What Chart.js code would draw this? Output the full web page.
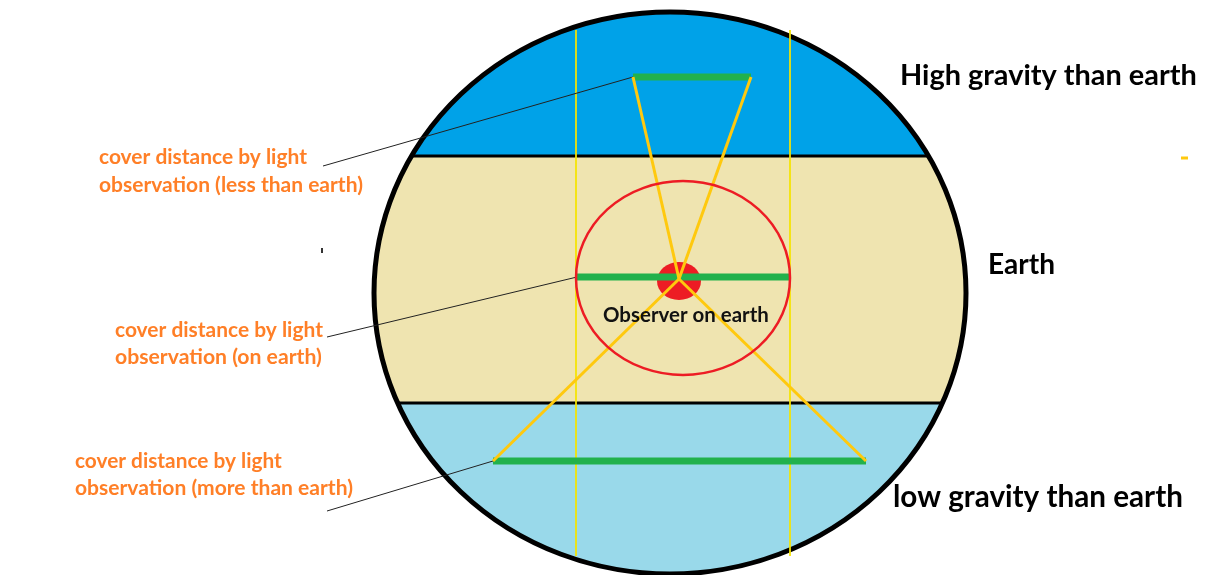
<!DOCTYPE html>
<html>
<head>
<meta charset="utf-8">
<script src="https://cdn.jsdelivr.net/npm/chart.js@4/dist/chart.umd.min.js"></script>
<style>
  html, body { margin: 0; padding: 0; background: #fff; }
  #wrap { width: 1206px; height: 575px; position: relative; }
</style>
</head>
<body>
<div id="wrap"><canvas id="gravity-chart"></canvas></div>
<script>
// diagram values, in picture units (x right, y down)
const levels = ["High gravity than earth", "Earth", "low gravity than earth"];
const spanY = [77, 277, 461];
const spanLeft = [633, 577, 493];
const spanRight = [751, 791, 866];
const observer = [679, 279];
const leaderStart = [[323, 166], [327, 337], [327, 511]];
const guideX = [576, 790];
const guideY = [30, 556];
const bandEdges = [156, 403];
const bandColors = ["#00a2e8", "#efe4b0", "#99d9ea"];
const disc = [670, 293, 296, 281];     // cx, cy, rx, ry
const ring = [683, 278, 107, 97];
const dot = [679, 281, 22, 19];

const captions = [
  ["cover distance by light", "observation (less than earth)"],
  ["cover distance by light", "observation (on earth)"],
  ["cover distance by light", "observation (more than earth)"]
];

// text layout: [text, x, baseline, width, colour]
const textLayout = [
  [levels[0], 900, 85, 297, "#000"],
  [levels[1], 988, 274, 67, "#000"],
  [levels[2], 893, 507, 290, "#000"],
  [captions[0][0], 99, 164, 208, "#ff7f27"],
  [captions[0][1], 99, 192, 264, "#ff7f27"],
  [captions[1][0], 115, 337, 208, "#ff7f27"],
  [captions[1][1], 115, 364, 207, "#ff7f27"],
  [captions[2][0], 75, 468, 207, "#ff7f27"],
  [captions[2][1], 75, 495, 278, "#ff7f27"],
  ["Observer on earth", 603, 322, 166, "#111"]
];

function seg(a, b) { return [{x: a[0], y: a[1]}, {x: b[0], y: b[1]}]; }

const datasets = [];
guideX.forEach(gx => datasets.push({
  data: seg([gx, guideY[0]], [gx, guideY[1]]), borderColor: "#f5e400", borderWidth: 1, order: 6
}));
leaderStart.forEach((p, i) => datasets.push({
  data: seg(p, [spanLeft[i], spanY[i]]), borderColor: "#222", borderWidth: 1, order: 5
}));
spanY.forEach((y, i) => datasets.push({
  data: seg([spanLeft[i], y], [spanRight[i], y]), borderColor: "#22b14c", borderWidth: 7, order: 4
}));
[0, 2].forEach(i => {
  datasets.push({ data: seg([spanLeft[i], spanY[i]], observer), borderColor: "#ffc90e", borderWidth: 3, order: 3 });
  datasets.push({ data: seg([spanRight[i], spanY[i]], observer), borderColor: "#ffc90e", borderWidth: 3, order: 3 });
});
// stray marks in the picture
datasets.push({ data: seg([1181, 158], [1188, 158]), borderColor: "#ffc90e", borderWidth: 3, order: 2 });
datasets.push({ data: seg([322, 248], [322, 253]), borderColor: "#333", borderWidth: 2, order: 2 });

function ellipsePath(ctx, s, e) {
  const cx = s.x.getPixelForValue(e[0]), cy = s.y.getPixelForValue(e[1]);
  const rx = Math.abs(s.x.getPixelForValue(e[0] + e[2]) - cx);
  const ry = Math.abs(s.y.getPixelForValue(e[1] + e[3]) - cy);
  ctx.beginPath();
  ctx.ellipse(cx, cy, rx, ry, 0, 0, Math.PI * 2);
}

const backdrop = {
  id: "backdrop",
  beforeDatasetsDraw(chart) {
    const ctx = chart.ctx, s = chart.scales;
    const left = s.x.getPixelForValue(disc[0] - disc[2]);
    const right = s.x.getPixelForValue(disc[0] + disc[2]);
    const edges = [disc[1] - disc[3], bandEdges[0], bandEdges[1], disc[1] + disc[3]].map(v => s.y.getPixelForValue(v));
    ctx.save();
    ellipsePath(ctx, s, disc);
    ctx.clip();
    bandColors.forEach((c, i) => {
      ctx.fillStyle = c;
      ctx.fillRect(left, edges[i], right - left, edges[i + 1] - edges[i]);
    });
    ctx.strokeStyle = "#000";
    ctx.lineWidth = 3;
    bandEdges.forEach(b => {
      const y = s.y.getPixelForValue(b);
      ctx.beginPath(); ctx.moveTo(left, y); ctx.lineTo(right, y); ctx.stroke();
    });
    ctx.restore();

    ctx.save();
    ellipsePath(ctx, s, disc);
    ctx.lineWidth = 5;
    ctx.strokeStyle = "#000";
    ctx.stroke();
    ellipsePath(ctx, s, dot);
    ctx.fillStyle = "#ed1c24";
    ctx.fill();
    ctx.restore();
  },
  afterDatasetsDraw(chart) {
    const ctx = chart.ctx, s = chart.scales;
    ctx.save();
    ellipsePath(ctx, s, ring);
    ctx.lineWidth = 2.5;
    ctx.strokeStyle = "#ed1c24";
    ctx.stroke();
    ctx.textBaseline = "alphabetic";
    textLayout.forEach(([t, x, y, w, col]) => {
      ctx.font = "bold 100px Lato";
      const size = 100 * w / ctx.measureText(t).width;
      ctx.font = "bold " + size.toFixed(2) + "px Lato";
      ctx.fillStyle = col;
      ctx.fillText(t, s.x.getPixelForValue(x), s.y.getPixelForValue(y));
    });
    ctx.restore();
  }
};

new Chart(document.getElementById("gravity-chart"), {
  type: "scatter",
  data: { datasets: datasets },
  options: {
    responsive: true,
    maintainAspectRatio: false,
    animation: false,
    events: [],
    layout: { padding: 0 },
    datasets: { scatter: { showLine: true, pointRadius: 0, fill: false, borderCapStyle: "butt" } },
    scales: {
      x: { type: "linear", min: 0, max: 1206, display: false },
      y: { type: "linear", min: 0, max: 575, reverse: true, display: false }
    },
    plugins: { legend: { display: false }, tooltip: { enabled: false } }
  },
  plugins: [backdrop]
});
</script>
</body>
</html>
